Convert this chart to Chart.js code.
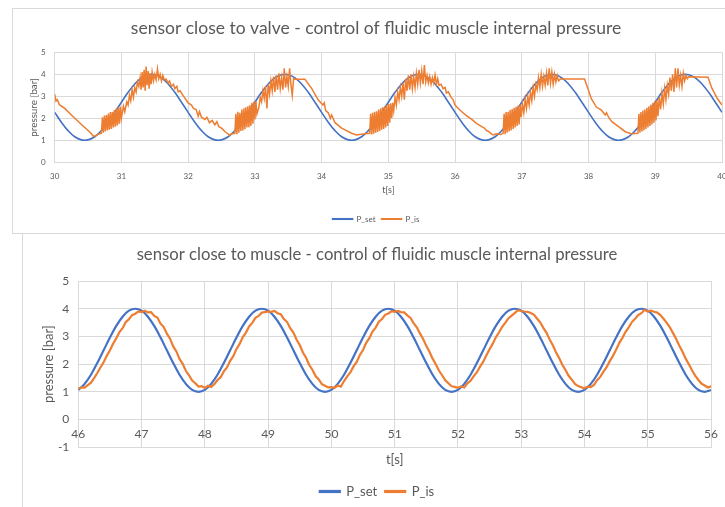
<!DOCTYPE html>
<html>
<head>
<meta charset="utf-8">
<script src="https://cdn.jsdelivr.net/npm/chart.js@4.4.1/dist/chart.umd.min.js"></script>
<style>
  html, body { margin: 0; padding: 0; background: #fff; }
  body { width: 725px; height: 507px; overflow: hidden; position: relative; }
  #boxValve { position: absolute; left: 12px; top: 8px; width: 726px; height: 224px; border: 1px solid #d9d9d9; }
  #boxMuscle { position: absolute; left: 22px; top: 234px; width: 707px; height: 280px; border-left: 1px solid #d9d9d9; }
  canvas { position: absolute; left: 0; top: 0; }
</style>
</head>
<body>
<div id="boxValve"><canvas id="valve" width="726" height="224"></canvas></div>
<div id="boxMuscle"><canvas id="muscle" width="707" height="280"></canvas></div>
<script>
// ---- sensor close to valve (t = 30..40 s) ----
const valveSetT = [
  30.0,30.1,30.2,30.3,30.4,30.5,30.6,30.7,30.8,30.9,
  31.0,31.1,31.2,31.3,31.4,31.5,31.6,31.7,31.8,31.9,
  32.0,32.1,32.2,32.3,32.4,32.5,32.6,32.7,32.8,32.9,
  33.0,33.1,33.2,33.3,33.4,33.5,33.6,33.7,33.8,33.9,
  34.0,34.1,34.2,34.3,34.4,34.5,34.6,34.7,34.8,34.9,
  35.0,35.1,35.2,35.3,35.4,35.5,35.6,35.7,35.8,35.9,
  36.0,36.1,36.2,36.3,36.4,36.5,36.6,36.7,36.8,36.9,
  37.0,37.1,37.2,37.3,37.4,37.5,37.6,37.7,37.8,37.9,
  38.0,38.1,38.2,38.3,38.4,38.5,38.6,38.7,38.8,38.9,
  39.0,39.1,39.2,39.3,39.4,39.5,39.6,39.7,39.8,39.9,
  40.0
];
const valveSetP = [
  2.27,1.82,1.44,1.16,1.02,1.02,1.16,1.44,1.82,2.27,2.73,3.18,3.56,3.84,3.98,3.98,3.84,3.56,3.18,2.73,
  2.27,1.82,1.44,1.16,1.02,1.02,1.16,1.44,1.82,2.27,2.73,3.18,3.56,3.84,3.98,3.98,3.84,3.56,3.18,2.73,
  2.27,1.82,1.44,1.16,1.02,1.02,1.16,1.44,1.82,2.27,2.73,3.18,3.56,3.84,3.98,3.98,3.84,3.56,3.18,2.73,
  2.27,1.82,1.44,1.16,1.02,1.02,1.16,1.44,1.82,2.27,2.73,3.18,3.56,3.84,3.98,3.98,3.84,3.56,3.18,2.73,
  2.27,1.82,1.44,1.16,1.02,1.02,1.16,1.44,1.82,2.27,2.73,3.18,3.56,3.84,3.98,3.98,3.84,3.56,3.18,2.73,
  2.27
];
const valveIs = [
  [30.00,3.10],[30.02,2.78],[30.04,2.85],[30.07,2.62],[30.15,2.45],[30.25,2.15],[30.33,1.92],[30.40,1.72],
  [30.48,1.50],[30.55,1.30],[30.58,1.18],[30.62,1.22],[30.66,1.28],[30.70,1.32],
  [30.715,2.05],[30.73,1.35],[30.745,2.12],[30.76,1.40],[30.775,2.15],[30.79,1.45],[30.805,2.22],[30.82,1.48],
  [30.835,2.28],[30.85,1.52],[30.865,2.30],[30.88,1.58],[30.895,2.38],[30.91,1.62],[30.925,2.45],[30.94,1.68],
  [30.955,2.50],[30.97,1.75],[30.985,2.53],[31.00,2.00],
  [31.03,2.55],[31.05,2.30],[31.08,2.75],[31.10,2.60],[31.12,3.05],[31.14,2.80],[31.16,3.30],[31.18,2.95],
  [31.20,3.40],[31.22,3.20],[31.24,3.65],[31.26,3.45],[31.28,3.85],
  [31.295,3.30],[31.31,4.10],[31.325,3.40],[31.34,4.20],[31.355,3.25],[31.37,4.35],[31.385,3.50],[31.40,4.15],
  [31.415,3.35],[31.43,4.05],[31.445,3.55],[31.46,4.10],[31.48,3.70],[31.50,4.00],[31.52,3.75],[31.54,4.25],
  [31.56,3.80],[31.58,4.00],[31.60,3.70],[31.62,3.95],[31.64,3.75],
  [31.67,3.78],[31.70,3.60],[31.72,3.70],[31.75,3.45],[31.78,3.55],[31.80,3.35],[31.83,3.45],[31.85,3.20],
  [31.88,3.25],[31.92,3.05],[32.00,2.70],[32.05,2.60],[32.08,2.45],[32.12,2.40],[32.15,2.10],[32.17,2.30],
  [32.20,2.05],[32.25,1.95],[32.28,2.05],[32.32,1.80],[32.36,1.90],[32.40,1.70],[32.43,1.85],[32.46,1.62],
  [32.50,1.55],[32.55,1.40],[32.62,1.24],[32.66,1.30],[32.70,1.32],
  [32.715,2.20],[32.73,1.28],[32.745,2.30],[32.76,1.35],[32.775,2.25],[32.79,1.42],[32.805,2.40],[32.82,1.45],
  [32.835,2.45],[32.85,1.50],[32.865,2.50],[32.88,1.58],[32.895,2.55],[32.91,1.60],[32.925,2.60],[32.94,1.65],
  [32.955,2.70],[32.97,1.75],[32.985,2.75],[33.00,1.95],[33.015,2.78],[33.03,2.20],
  [33.06,2.50],[33.08,2.95],[33.10,2.75],[33.12,3.25],[33.14,2.90],[33.16,3.45],[33.18,2.45],[33.20,3.55],
  [33.22,3.10],[33.24,3.70],[33.26,3.25],[33.28,3.90],[33.30,3.20],[33.32,3.95],[33.34,3.30],[33.36,4.05],
  [33.38,3.35],[33.40,3.85],[33.42,3.30],[33.44,4.27],[33.46,3.40],[33.48,3.90],[33.50,3.45],[33.52,4.27],
  [33.54,3.55],[33.56,3.05],[33.58,3.80],[33.60,3.77],[33.75,3.77],
  [33.85,3.36],[33.95,2.83],[34.02,2.60],[34.04,2.70],[34.06,2.35],[34.10,2.25],[34.13,2.00],[34.15,2.15],
  [34.20,1.80],[34.30,1.55],[34.45,1.32],[34.52,1.24],[34.65,1.30],[34.72,1.32],
  [34.735,2.20],[34.75,1.26],[34.765,2.25],[34.78,1.30],[34.795,2.30],[34.81,1.34],[34.825,2.32],[34.84,1.38],
  [34.855,2.40],[34.87,1.42],[34.885,2.45],[34.90,1.48],[34.915,2.50],[34.93,1.52],[34.945,2.55],[34.96,1.58],
  [34.975,2.60],[34.99,1.65],[35.005,2.65],[35.02,1.80],[35.035,2.68],[35.05,2.00],[35.065,2.70],
  [35.08,2.35],[35.10,2.95],[35.12,2.60],[35.14,3.20],[35.16,2.85],[35.18,3.40],[35.20,3.00],[35.22,3.60],
  [35.24,2.85],[35.26,3.80],[35.28,3.25],[35.30,3.95],[35.32,3.30],[35.34,4.00],[35.36,3.35],[35.38,3.90],
  [35.40,3.40],[35.42,4.05],[35.44,3.55],[35.46,4.20],[35.48,3.60],[35.50,4.15],[35.52,3.55],[35.54,4.42],
  [35.56,3.65],[35.58,3.95],[35.60,3.60],[35.62,3.90],[35.64,3.55],[35.66,3.85],[35.68,3.60],[35.70,3.97],
  [35.72,3.55],[35.74,3.80],[35.76,3.50],
  [35.79,3.55],[35.82,3.35],[35.85,3.40],[35.87,3.15],[35.90,3.20],[35.94,2.95],[35.97,2.85],[36.00,2.60],
  [36.03,2.50],[36.10,2.30],[36.17,2.12],[36.25,1.95],[36.32,1.77],[36.40,1.62],[36.44,1.55],[36.47,1.45],
  [36.50,1.40],[36.55,1.28],[36.57,1.24],[36.62,1.30],[36.68,1.26],[36.72,1.32],
  [36.735,2.20],[36.75,1.28],[36.765,2.28],[36.78,1.35],[36.795,2.30],[36.81,1.40],[36.825,2.38],[36.84,1.45],
  [36.855,2.42],[36.87,1.52],[36.885,2.48],[36.90,1.58],[36.915,2.52],[36.93,1.65],[36.945,2.58],[36.96,1.72],
  [36.975,2.62],
  [36.99,2.05],[37.01,2.65],[37.03,2.25],[37.05,2.85],[37.07,2.45],[37.09,3.00],[37.11,2.60],[37.13,3.20],
  [37.15,2.80],[37.17,3.40],[37.19,3.00],[37.21,3.55],[37.23,3.30],[37.25,3.85],[37.27,3.40],[37.29,4.00],
  [37.31,3.45],[37.33,3.90],[37.35,3.50],[37.37,4.05],[37.39,3.50],[37.41,4.27],[37.43,3.60],[37.45,4.10],
  [37.47,3.55],[37.49,4.00],[37.51,3.65],[37.53,3.95],[37.55,3.70],[37.58,3.79],[37.94,3.79],[37.99,3.36],
  [38.04,2.90],[38.12,2.50],[38.19,2.38],[38.25,2.15],[38.27,2.25],[38.30,2.05],[38.35,1.85],[38.45,1.62],
  [38.55,1.39],[38.64,1.30],[38.74,1.32],
  [38.755,2.20],[38.77,1.34],[38.785,2.28],[38.80,1.40],[38.815,2.35],[38.83,1.45],[38.845,2.40],[38.86,1.52],
  [38.875,2.48],[38.89,1.58],[38.905,2.55],[38.92,1.65],[38.935,2.62],[38.95,1.72],[38.965,2.70],[38.98,1.80],
  [38.995,2.78],[39.01,1.90],[39.025,2.83],[39.04,2.10],
  [39.06,2.95],[39.08,2.40],[39.10,3.15],[39.12,2.65],[39.14,3.35],[39.16,2.85],[39.18,3.50],[39.20,3.10],
  [39.22,3.85],[39.24,3.25],[39.26,4.00],[39.28,3.20],[39.30,4.27],[39.32,3.40],[39.34,4.27],[39.36,3.50],
  [39.38,3.95],[39.40,3.45],[39.42,4.05],[39.44,3.70],[39.46,3.95],[39.48,3.80],[39.50,3.89],[39.79,3.87],
  [39.85,3.36],[39.93,2.90],[40.00,2.60]
];

// ---- sensor close to muscle (t = 46..56 s) ----
const muscleSetT = [
  46.0,46.1,46.2,46.3,46.4,46.5,46.6,46.7,46.8,46.9,
  47.0,47.1,47.2,47.3,47.4,47.5,47.6,47.7,47.8,47.9,
  48.0,48.1,48.2,48.3,48.4,48.5,48.6,48.7,48.8,48.9,
  49.0,49.1,49.2,49.3,49.4,49.5,49.6,49.7,49.8,49.9,
  50.0,50.1,50.2,50.3,50.4,50.5,50.6,50.7,50.8,50.9,
  51.0,51.1,51.2,51.3,51.4,51.5,51.6,51.7,51.8,51.9,
  52.0,52.1,52.2,52.3,52.4,52.5,52.6,52.7,52.8,52.9,
  53.0,53.1,53.2,53.3,53.4,53.5,53.6,53.7,53.8,53.9,
  54.0,54.1,54.2,54.3,54.4,54.5,54.6,54.7,54.8,54.9,
  55.0,55.1,55.2,55.3,55.4,55.5,55.6,55.7,55.8,55.9,
  56.0
];
const muscleSetP = [
  1.07,1.29,1.62,2.04,2.50,2.96,3.38,3.71,3.93,4.00,3.93,3.71,3.38,2.96,2.50,2.04,1.62,1.29,1.07,1.00,
  1.07,1.29,1.62,2.04,2.50,2.96,3.38,3.71,3.93,4.00,3.93,3.71,3.38,2.96,2.50,2.04,1.62,1.29,1.07,1.00,
  1.07,1.29,1.62,2.04,2.50,2.96,3.38,3.71,3.93,4.00,3.93,3.71,3.38,2.96,2.50,2.04,1.62,1.29,1.07,1.00,
  1.07,1.29,1.62,2.04,2.50,2.96,3.38,3.71,3.93,4.00,3.93,3.71,3.38,2.96,2.50,2.04,1.62,1.29,1.07,1.00,
  1.07,1.29,1.62,2.04,2.50,2.96,3.38,3.71,3.93,4.00,3.93,3.71,3.38,2.96,2.50,2.04,1.62,1.29,1.07,1.00,
  1.07
];
const muscleIsT = [
  46.00,46.05,46.10,46.15,46.20,46.25,46.30,46.35,46.40,46.45,46.50,46.55,46.60,46.65,46.70,46.75,46.80,46.85,46.90,46.95,
  47.00,47.05,47.10,47.15,47.20,47.25,47.30,47.35,47.40,47.45,47.50,47.55,47.60,47.65,47.70,47.75,47.80,47.85,47.90,47.95,
  48.00,48.05,48.10,48.15,48.20,48.25,48.30,48.35,48.40,48.45,48.50,48.55,48.60,48.65,48.70,48.75,48.80,48.85,48.90,48.95,
  49.00,49.05,49.10,49.15,49.20,49.25,49.30,49.35,49.40,49.45,49.50,49.55,49.60,49.65,49.70,49.75,49.80,49.85,49.90,49.95,
  50.00,50.05,50.10,50.15,50.20,50.25,50.30,50.35,50.40,50.45,50.50,50.55,50.60,50.65,50.70,50.75,50.80,50.85,50.90,50.95,
  51.00,51.05,51.10,51.15,51.20,51.25,51.30,51.35,51.40,51.45,51.50,51.55,51.60,51.65,51.70,51.75,51.80,51.85,51.90,51.95,
  52.00,52.05,52.10,52.15,52.20,52.25,52.30,52.35,52.40,52.45,52.50,52.55,52.60,52.65,52.70,52.75,52.80,52.85,52.90,52.95,
  53.00,53.05,53.10,53.15,53.20,53.25,53.30,53.35,53.40,53.45,53.50,53.55,53.60,53.65,53.70,53.75,53.80,53.85,53.90,53.95,
  54.00,54.05,54.10,54.15,54.20,54.25,54.30,54.35,54.40,54.45,54.50,54.55,54.60,54.65,54.70,54.75,54.80,54.85,54.90,54.95,
  55.00,55.05,55.10,55.15,55.20,55.25,55.30,55.35,55.40,55.45,55.50,55.55,55.60,55.65,55.70,55.75,55.80,55.85,55.90,55.95,
  56.00
];
const muscleIsP = [
  1.12,1.16,1.15,1.24,1.33,1.50,1.68,1.88,2.07,2.30,2.50,2.74,2.93,3.16,3.30,3.52,3.62,3.77,3.82,3.90,
  3.88,3.93,3.87,3.88,3.74,3.68,3.46,3.34,3.10,2.92,2.64,2.46,2.19,2.01,1.76,1.60,1.41,1.31,1.19,1.21,
  1.14,1.22,1.18,1.28,1.43,1.53,1.74,1.88,2.12,2.29,2.55,2.73,2.98,3.14,3.36,3.49,3.67,3.74,3.86,3.88,
  3.90,3.89,3.92,3.84,3.80,3.63,3.52,3.30,3.14,2.88,2.69,2.42,2.23,1.97,1.80,1.57,1.45,1.28,1.22,1.16,
  1.17,1.15,1.23,1.19,1.39,1.56,1.70,1.92,2.08,2.33,2.51,2.77,2.94,3.18,3.32,3.53,3.63,3.78,3.83,3.91,
  3.89,3.92,3.88,3.87,3.76,3.67,3.48,3.33,3.11,2.91,2.66,2.45,2.20,2.00,1.77,1.60,1.42,1.31,1.20,1.18,
  1.15,1.20,1.16,1.31,1.40,1.57,1.71,1.91,2.09,2.32,2.54,2.74,2.97,3.15,3.35,3.50,3.66,3.75,3.85,3.95,
  3.92,3.90,3.89,3.85,3.79,3.65,3.51,3.31,3.13,2.89,2.68,2.43,2.22,1.98,1.79,1.58,1.44,1.29,1.21,1.17,
  1.13,1.19,1.17,1.25,1.42,1.54,1.73,1.89,2.11,2.30,2.52,2.76,2.95,3.17,3.33,3.52,3.64,3.77,3.84,3.96,
  3.90,3.93,3.89,3.86,3.77,3.64,3.49,3.33,3.12,2.91,2.66,2.45,2.20,2.00,1.78,1.59,1.43,1.30,1.23,1.16,
  1.20
];

const BLUE = "#4472C4";
const ORANGE = "#ED7D31";
const GRID = "#d9d9d9";
const TEXT = "#595959";
const FONT = "Lato";

const toXY = (ts, ps) => ts.map((t, i) => ({ x: t, y: ps[i] }));
const byIndex = (a, b) => a.datasetIndex - b.datasetIndex;

new Chart(document.getElementById("valve"), {
  type: "line",
  data: {
    datasets: [
      { label: "P_set", data: toXY(valveSetT, valveSetP), borderColor: BLUE, backgroundColor: BLUE,
        borderWidth: 1.6, pointRadius: 0, tension: 0.4, order: 1 },
      { label: "P_is", data: valveIs.map(([t, p]) => ({ x: t, y: p })), borderColor: ORANGE, backgroundColor: ORANGE,
        borderWidth: 1.5, pointRadius: 0, tension: 0, order: 0 },
    ],
  },
  options: {
    responsive: false,
    animation: false,
    // left/right padding keeps title and legend centred like the original
    layout: { padding: { left: 17, right: 17, top: 0, bottom: 0 } },
    plugins: {
      title: { display: true, text: "sensor close to valve - control of fluidic muscle internal pressure",
        color: TEXT, font: { family: FONT, size: 17.5, weight: "normal" }, padding: { top: 8.5, bottom: 13.8 } },
      legend: { position: "bottom",
        labels: { boxWidth: 20, boxHeight: 0.5, padding: 6, color: TEXT, font: { family: FONT, size: 8 }, sort: byIndex } },
      tooltip: { enabled: false },
    },
    scales: {
      x: { type: "linear", min: 30, max: 40,
        ticks: { stepSize: 1, padding: 9, color: TEXT, font: { family: FONT, size: 8 } },
        grid: { color: GRID, drawTicks: false }, border: { color: GRID },
        title: { display: true, text: "t[s]", color: TEXT, font: { family: FONT, size: 9 }, padding: { top: 0, bottom: 13.6 } },
        afterFit: (s) => { s.height = 46.7; } },
      y: { min: 0, max: 5,
        ticks: { stepSize: 1, padding: 9, color: TEXT, font: { family: FONT, size: 8 } },
        grid: { color: GRID, drawTicks: false }, border: { color: GRID },
        title: { display: true, text: "pressure [bar]", color: TEXT, font: { family: FONT, size: 9.8 }, padding: { top: -2.4, bottom: 0 } },
        afterFit: (s) => { s.width = 24.7; } },
    },
  },
});

new Chart(document.getElementById("muscle"), {
  type: "line",
  data: {
    datasets: [
      { label: "P_set", data: toXY(muscleSetT, muscleSetP), borderColor: BLUE, backgroundColor: BLUE,
        borderWidth: 2.2, pointRadius: 0, tension: 0.4, order: 1 },
      { label: "P_is", data: toXY(muscleIsT, muscleIsP), borderColor: ORANGE, backgroundColor: ORANGE,
        borderWidth: 2.2, pointRadius: 0, tension: 0, order: 0 },
    ],
  },
  options: {
    responsive: false,
    animation: false,
    layout: { padding: { left: 20, right: 19, top: 0, bottom: 6 } },
    plugins: {
      title: { display: true, text: "sensor close to muscle - control of fluidic muscle internal pressure",
        color: TEXT, font: { family: FONT, size: 16.7, weight: "normal" }, padding: { top: 11, bottom: 16 } },
      legend: { position: "bottom",
        labels: { boxWidth: 20, boxHeight: 1, padding: 8, color: TEXT, font: { family: FONT, size: 13 }, sort: byIndex } },
      tooltip: { enabled: false },
    },
    scales: {
      x: { type: "linear", min: 46, max: 56,
        ticks: { display: false, stepSize: 1 },
        grid: { color: GRID, drawTicks: false }, border: { color: GRID },
        title: { display: true, text: "t[s]", color: TEXT, font: { family: FONT, size: 13 }, padding: { top: 0, bottom: 9.4 } },
        afterFit: (s) => { s.height = 29.7; } },
      // tick labels sit on the zero line, like the Excel axis crossing
      x2: { type: "linear", axis: "x", min: 46, max: 56, position: { y: 0 },
        ticks: { stepSize: 1, padding: 7.5, color: TEXT, font: { family: FONT, size: 12 } },
        grid: { display: false, drawTicks: false }, border: { display: false },
        afterFit: (s) => { s.height = 0; } },
      y: { min: -1, max: 5,
        ticks: { stepSize: 1, padding: 9, color: TEXT, font: { family: FONT, size: 12 } },
        grid: { color: GRID, drawTicks: false }, border: { color: GRID },
        title: { display: true, text: "pressure [bar]", color: TEXT, font: { family: FONT, size: 13 }, padding: { top: -2.3, bottom: 0 } },
        afterFit: (s) => { s.width = 35.3; } },
    },
  },
});
</script>
</body>
</html>
